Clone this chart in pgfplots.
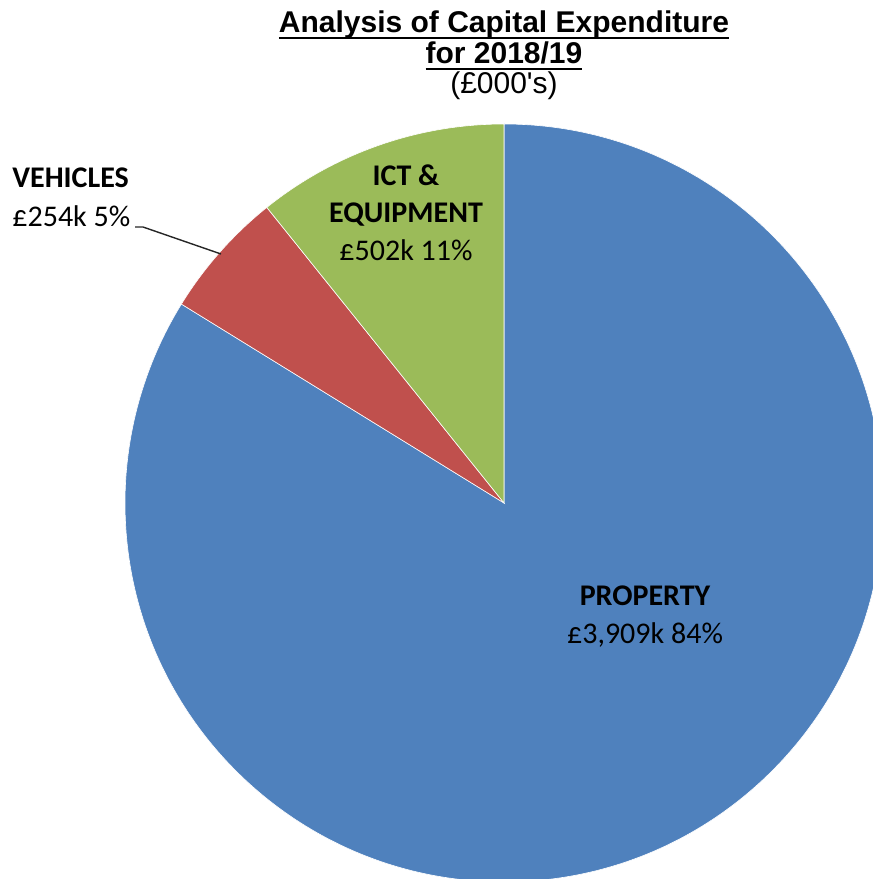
\documentclass[border=0pt]{standalone}
\usepackage{pgfplots}
\pgfplotsset{compat=1.18}
\usepackage{pgfplotstable}
\usepackage{fontspec}
\setmainfont{Liberation Sans}
\newfontfamily\calfont{Carlito}
\definecolor{cblue}{HTML}{4F81BD}
\definecolor{cred}{HTML}{C0504D}
\definecolor{cgreen}{HTML}{9BBB59}
\newcommand\ul[1]{\setbox0\hbox{#1}\rlap{\rule[-3pt]{\wd0}{1pt}}\box0}
% values in £000's
\pgfplotstableread{
name value
Property 3909
Vehicles 254
ICT 502
}\piedata
\begin{document}
\begin{tikzpicture}
\pgfplotstablegetelem{0}{value}\of\piedata \let\vP\pgfplotsretval
\pgfplotstablegetelem{1}{value}\of\piedata \let\vV\pgfplotsretval
\pgfplotstablegetelem{2}{value}\of\piedata \let\vI\pgfplotsretval
\pgfmathsetmacro\tot{\vP+\vV+\vI}
\pgfmathsetmacro\aA{90}
\pgfmathsetmacro\aB{90-360*(\vP/\tot)}
\pgfmathsetmacro\aC{\aB-360*(\vV/\tot)}
\pgfmathsetmacro\aD{\aC-360*(\vI/\tot)}
\def\R{189.5pt}
\begin{axis}[
  scale only axis, width=436.5pt, height=439.5pt,
  xmin=0, xmax=873, ymin=0, ymax=879,
  hide axis, clip=true,
]
\fill[cblue, draw=white, line width=0.3pt] (axis cs:504,376) -- ++(\aA:\R) arc[start angle=\aA, end angle=\aB, radius=\R] -- cycle;
\fill[cred, draw=white, line width=0.3pt] (axis cs:504,376) -- ++(\aB:\R) arc[start angle=\aB, end angle=\aC, radius=\R] -- cycle;
\fill[cgreen, draw=white, line width=0.3pt] (axis cs:504,376) -- ++(\aC:\R) arc[start angle=\aC, end angle=\aD, radius=\R] -- cycle;
% title
\node[anchor=base, inner sep=0pt, font=\fontsize{15}{18}\selectfont\bfseries] at (axis cs:504,846) {\ul{Analysis of Capital Expenditure}};
\node[anchor=base, inner sep=0pt, font=\fontsize{15}{18}\selectfont\bfseries] at (axis cs:504,815) {\ul{for 2018/19}};
\node[anchor=base, inner sep=0pt, font=\fontsize{15}{18}\selectfont] at (axis cs:504,785) {(£000\textquotesingle s)};
% labels
\node[anchor=base west, inner sep=0pt, font=\calfont\fontsize{15}{18}\selectfont\bfseries] at (axis cs:12,691) {VEHICLES};
\node[anchor=base west, inner sep=0pt, font=\calfont\fontsize{15}{18}\selectfont] at (axis cs:12,652) {£254k 5\%};
\draw[black!85, line width=0.7pt] (axis cs:135,652) -- (axis cs:143,652) -- (axis cs:221,625);
\node[anchor=base, inner sep=0pt, font=\calfont\fontsize{15}{18}\selectfont\bfseries] at (axis cs:406,693) {ICT \&};
\node[anchor=base, inner sep=0pt, font=\calfont\fontsize{15}{18}\selectfont\bfseries] at (axis cs:406,656) {EQUIPMENT};
\node[anchor=base, inner sep=0pt, font=\calfont\fontsize{15}{18}\selectfont] at (axis cs:406,618) {£502k 11\%};
\node[anchor=base, inner sep=0pt, font=\calfont\fontsize{15}{18}\selectfont\bfseries] at (axis cs:645,273) {PROPERTY};
\node[anchor=base, inner sep=0pt, font=\calfont\fontsize{15}{18}\selectfont] at (axis cs:645,235) {£3,909k 84\%};
\end{axis}
\pgfresetboundingbox
\path (current axis.south west) rectangle (current axis.north east);
\end{tikzpicture}
\end{document}
